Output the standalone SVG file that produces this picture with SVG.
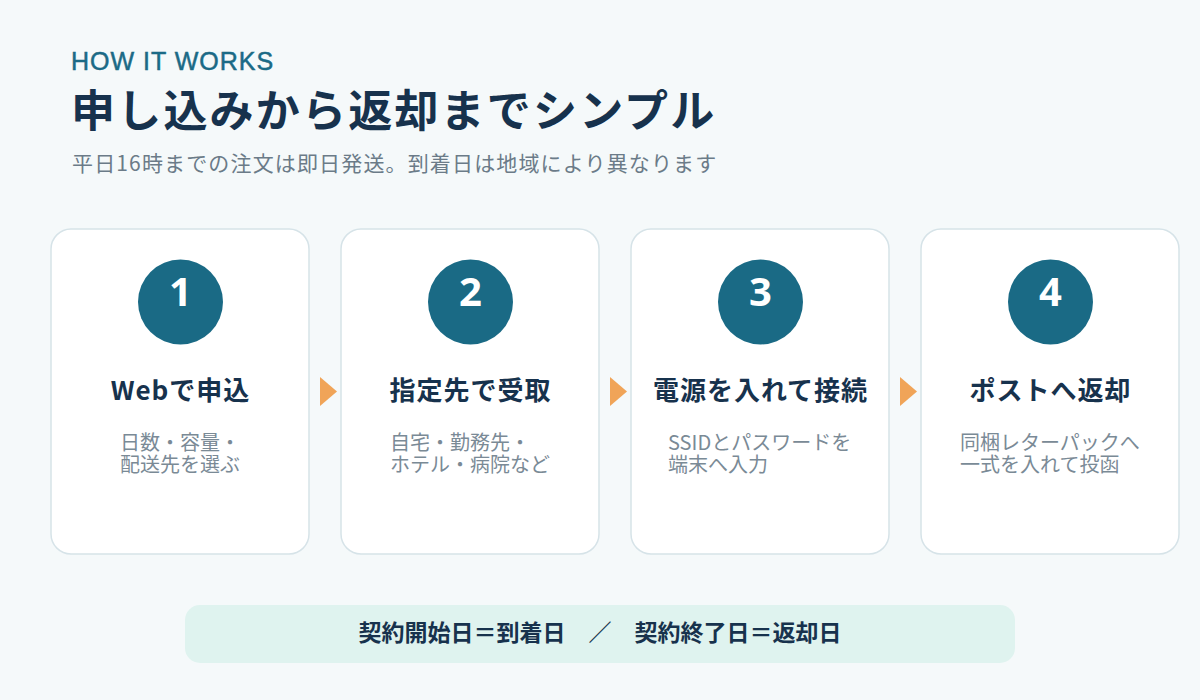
<svg xmlns="http://www.w3.org/2000/svg" width="1200" height="700" viewBox="0 0 1200 700">
<defs>
<style>
.jp{font-family:"Noto Sans CJK JP","Noto Sans",sans-serif}
.card{fill:#ffffff;stroke:#d6e3e8;stroke-width:1.5}
.num-bg{fill:#1a6a85}
.num{font-family:"Noto Sans","DejaVu Sans",sans-serif;font-weight:700;font-size:40px;fill:#ffffff;text-anchor:middle}
.ttl{font-family:"Noto Sans CJK JP",sans-serif;font-weight:700;font-size:26px;letter-spacing:1px;fill:#17324d;text-anchor:middle}
.desc{font-family:"Noto Sans CJK JP",sans-serif;font-size:20px;fill:#7a8a96}
.arrow{fill:#f0a458}
</style>
</defs>
<rect x="0" y="0" width="1200" height="700" fill="#f5f9fa"/>
<g id="header">
<text x="71" y="70" font-family="Liberation Sans, Arial, sans-serif" font-size="25" letter-spacing="1" fill="#1b6a86" stroke="#1b6a86" stroke-width="0.5">HOW IT WORKS</text>
<text x="71" y="127" class="jp" font-size="44" font-weight="700" letter-spacing="2.2" fill="#17324d">申し込みから返却までシンプル</text>
<text x="72" y="171" class="jp" font-size="21" letter-spacing="1.15" fill="#6b7b88">平日16時までの注文は即日発送。到着日は地域により異なります</text>
</g>
<g id="step1">
<rect class="card" x="51" y="229" width="258" height="325" rx="20"/>
<circle class="num-bg" cx="180.5" cy="302" r="42.5"/>
<text class="num" x="180.5" y="306">1</text>
<text class="ttl" x="180.5" y="400">Webで申込</text>
<text class="desc" x="120" y="449.5">日数・容量・</text>
<text class="desc" x="120" y="472">配送先を選ぶ</text>
</g>
<g id="step2">
<rect class="card" x="341" y="229" width="258" height="325" rx="20"/>
<circle class="num-bg" cx="470.5" cy="302" r="42.5"/>
<text class="num" x="470.5" y="306">2</text>
<text class="ttl" x="470.5" y="400">指定先で受取</text>
<text class="desc" x="390" y="449.5">自宅・勤務先・</text>
<text class="desc" x="390" y="472">ホテル・病院など</text>
</g>
<g id="step3">
<rect class="card" x="631" y="229" width="258" height="325" rx="20"/>
<circle class="num-bg" cx="760.5" cy="302" r="42.5"/>
<text class="num" x="760.5" y="306">3</text>
<text class="ttl" x="760.5" y="400">電源を入れて接続</text>
<text class="desc" x="668" y="449.5">SSIDとパスワードを</text>
<text class="desc" x="668" y="472">端末へ入力</text>
</g>
<g id="step4">
<rect class="card" x="921" y="229" width="258" height="325" rx="20"/>
<circle class="num-bg" cx="1050.5" cy="302" r="42.5"/>
<text class="num" x="1050.5" y="306">4</text>
<text class="ttl" x="1050.5" y="400">ポストへ返却</text>
<text class="desc" x="960" y="449.5">同梱レターパックへ</text>
<text class="desc" x="960" y="472">一式を入れて投函</text>
</g>
<g id="connectors">
<polygon class="arrow" points="320,377 337,391.5 320,406"/>
<polygon class="arrow" points="610,377 627,391.5 610,406"/>
<polygon class="arrow" points="900,377 917,391.5 900,406"/>
</g>
<g id="note">
<rect x="185" y="605" width="830" height="58" rx="15" fill="#dff3ef"/>
<text x="600" y="641" class="jp" font-size="23" font-weight="700" fill="#17324d" text-anchor="middle">契約開始日＝到着日　／　契約終了日＝返却日</text>
</g>
</svg>
